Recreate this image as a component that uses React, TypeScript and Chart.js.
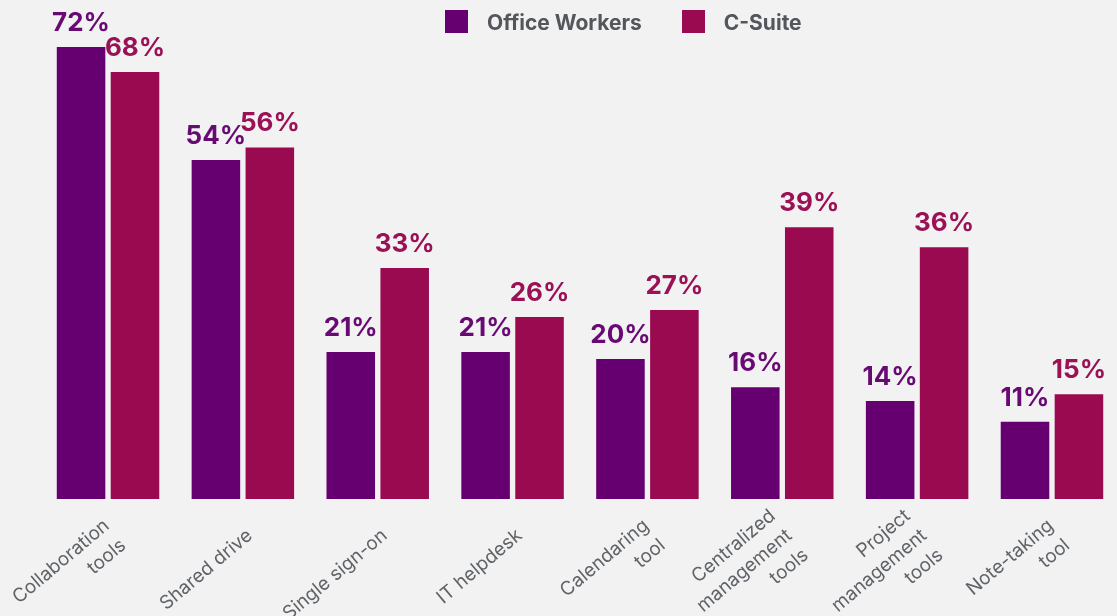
import React, { useEffect, useRef } from "react";
import { Chart, registerables } from "chart.js";

Chart.register(...registerables);

const categories: (string | string[])[] = [
  ["Collaboration", "tools"],
  "Shared drive",
  "Single sign-on",
  "IT helpdesk",
  ["Calendaring", "tool"],
  ["Centralized", "management", "tools"],
  ["Project", "management", "tools"],
  ["Note-taking", "tool"],
];

// bar heights as drawn in the picture
const officeWorkers = [72, 54, 23.4, 23.4, 22.3, 17.8, 15.6, 12.3];
const cSuite = [68, 56, 36.8, 29, 30.1, 43.3, 40.1, 16.7];

// printed value labels
const officeWorkersLabels = [72, 54, 21, 21, 20, 16, 14, 11];
const cSuiteLabels = [68, 56, 33, 26, 27, 39, 36, 15];

const seriesNames = ["Office Workers", "C-Suite"];
const barColors = ["#660070", "#990a50"];
const labelColors = ["#690a74", "#9a1156"];

const valueLabelPlugin = {
  id: "valueLabels",
  afterDatasetsDraw(chart: any) {
    const ctx = chart.ctx;
    const labelSets = [officeWorkersLabels, cSuiteLabels];
    chart.data.datasets.forEach((_ds: any, i: number) => {
      const meta = chart.getDatasetMeta(i);
      ctx.save();
      ctx.font = "700 26px Inter";
      ctx.fillStyle = labelColors[i];
      ctx.textAlign = "center";
      ctx.textBaseline = "alphabetic";
      meta.data.forEach((el: any, j: number) => {
        ctx.fillText(`${labelSets[i][j]}%`, el.x, el.y - 16);
      });
      ctx.restore();
    });
  },
};

// category labels: rotated 40deg, multi-line blocks centred on the tick
const categoryLabelPlugin = {
  id: "categoryLabels",
  afterDraw(chart: any) {
    const ctx = chart.ctx;
    const xs = chart.scales.x;
    const lineH = 25.6;
    const rot = (-40 * Math.PI) / 180;
    ctx.save();
    ctx.font = "400 19px Inter";
    ctx.fillStyle = "#5f6368";
    ctx.textAlign = "right";
    ctx.textBaseline = "middle";
    categories.forEach((lab, i) => {
      const lines = Array.isArray(lab) ? lab : [lab];
      const px = xs.getPixelForTick(i) + 7;
      const py = xs.top + 34;
      ctx.save();
      ctx.translate(px, py);
      ctx.rotate(rot);
      lines.forEach((ln, k) => {
        ctx.fillText(ln, 0, (k - (lines.length - 1) / 2) * lineH);
      });
      ctx.restore();
    });
    ctx.restore();
  },
};

export default function App() {
  const canvasRef = useRef<HTMLCanvasElement | null>(null);

  useEffect(() => {
    if (!canvasRef.current) return;
    const chart = new Chart(canvasRef.current, {
      type: "bar",
      data: {
        labels: categories,
        datasets: [
          { label: seriesNames[0], data: officeWorkers, backgroundColor: barColors[0] },
          { label: seriesNames[1], data: cSuite, backgroundColor: barColors[1] },
        ],
      },
      options: {
        responsive: false,
        animation: false,
        layout: { padding: { left: 40.6, right: 10.6, top: 47, bottom: 0 } },
        plugins: {
          legend: { display: false },
          tooltip: { enabled: false },
        },
        scales: {
          y: {
            display: false,
            min: 0,
            max: 72,
          },
          x: {
            grid: { display: false, drawTicks: false },
            border: { display: false },
            ticks: { display: false },
            afterFit: (scale: any) => {
              scale.height = 117;
              scale.paddingLeft = 0;
              scale.paddingRight = 0;
            },
          },
        },
      },
      plugins: [valueLabelPlugin, categoryLabelPlugin],
    });
    return () => chart.destroy();
  }, []);

  return (
    <div
      style={{
        position: "fixed",
        left: 0,
        top: 0,
        width: 1117,
        height: 616,
        overflow: "hidden",
        background: "#f2f2f2",
      }}
    >
      <canvas
        ref={canvasRef}
        width={1130}
        height={616}
        style={{ position: "absolute", left: 0, top: 0 }}
      />
      <div
        style={{
          position: "absolute",
          left: 445,
          top: 10,
          display: "flex",
          alignItems: "center",
          fontFamily: "Inter",
          fontWeight: 700,
          fontSize: 21,
          lineHeight: "23px",
          color: "#53575c",
        }}
      >
        <span style={{ width: 23, height: 23, background: barColors[0], marginRight: 19 }} />
        <span style={{ marginRight: 40, position: "relative", top: 1 }}>{seriesNames[0]}</span>
        <span style={{ width: 23, height: 23, background: barColors[1], marginRight: 19 }} />
        <span style={{ position: "relative", top: 1 }}>{seriesNames[1]}</span>
      </div>
    </div>
  );
}
